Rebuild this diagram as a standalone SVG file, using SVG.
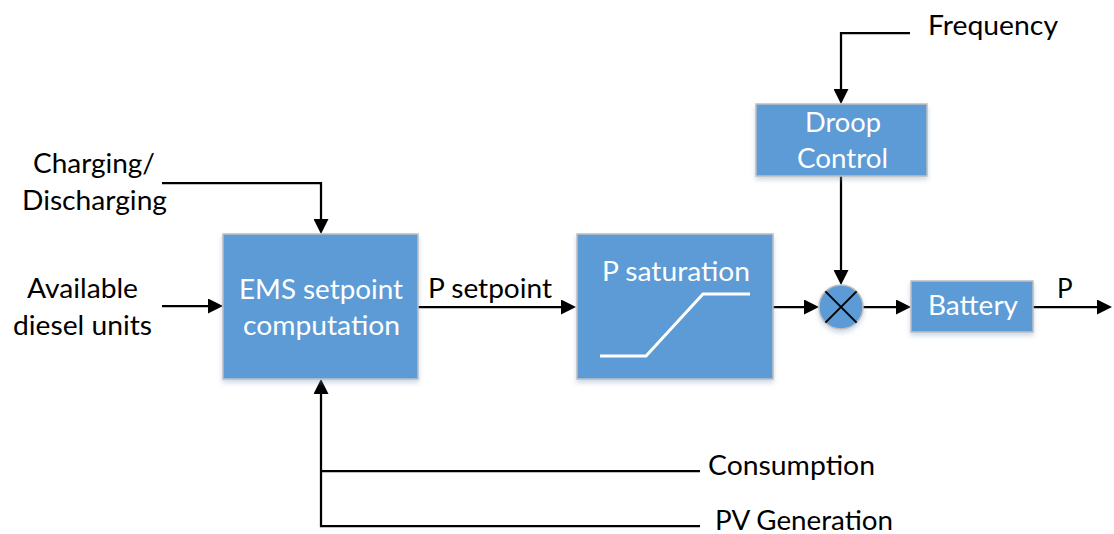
<svg xmlns="http://www.w3.org/2000/svg" width="1114" height="534" viewBox="0 0 1114 534">
  <style>
    .box { fill: #5B9BD5; stroke: #BFBFBF; stroke-width: 1.5; filter: url(#shadow); }
    .wire { fill: none; stroke: #000; stroke-width: 2.25; }
    .arrow { marker-end: url(#head); }
    text { font-family: Lato, "Open Sans", "Liberation Sans", sans-serif; font-size: 26px; }
    .in { fill: #fff; }
    .out { fill: #000; }
    .curve { fill: none; stroke: #fff; stroke-width: 3; }
    .cross { stroke: #000; stroke-width: 2; }
  </style>
  <defs>
    <filter id="shadow" x="-10%" y="-10%" width="120%" height="130%">
      <feDropShadow dx="0" dy="3" stdDeviation="2.5" flood-color="#7F9FC0" flood-opacity="0.4"/>
    </filter>
    <marker id="head" viewBox="0 0 15 15" refX="11" refY="7.5" markerWidth="15" markerHeight="15" orient="auto" markerUnits="userSpaceOnUse">
      <path d="M0,0 L15,7.5 L0,15 z" fill="#000"/>
    </marker>
  </defs>

  <!-- signal lines -->
  <g id="connectors">
    <path class="wire arrow" d="M162,183 H321 V230"/>
    <path class="wire arrow" d="M162,306 H219"/>
    <path class="wire arrow" d="M418,307 H572"/>
    <path class="wire arrow" d="M773,307 H815"/>
    <path class="wire arrow" d="M863,307 H907"/>
    <path class="wire arrow" d="M1033,307 H1108"/>
    <path class="wire arrow" d="M910,33 H841 V100"/>
    <path class="wire arrow" d="M841,176 V281"/>
    <path class="wire" d="M700,471 H321"/>
    <path class="wire arrow" d="M700,526 H321 V383"/>
  </g>

  <g id="ems">
    <rect class="box" x="223" y="234" width="195" height="145"/>
    <text class="in" x="239" y="299" textLength="164" lengthAdjust="spacingAndGlyphs">EMS setpoint</text>
    <text class="in" x="243" y="335" textLength="157" lengthAdjust="spacingAndGlyphs">computation</text>
  </g>

  <g id="saturation">
    <rect class="box" x="577" y="234" width="196" height="145"/>
    <text class="in" x="602" y="281" textLength="148" lengthAdjust="spacingAndGlyphs">P saturation</text>
    <polyline class="curve" points="600,356 646,356 703,294 750,294"/>
  </g>

  <g id="droop">
    <rect class="box" x="756" y="104" width="171" height="72"/>
    <text class="in" x="805" y="132" textLength="76" lengthAdjust="spacingAndGlyphs">Droop</text>
    <text class="in" x="797" y="168" textLength="91" lengthAdjust="spacingAndGlyphs">Control</text>
  </g>

  <g id="multiplier">
    <circle class="box" cx="841" cy="307" r="22"/>
    <line class="cross" x1="825.4" y1="291.4" x2="856.6" y2="322.6"/>
    <line class="cross" x1="856.6" y1="291.4" x2="825.4" y2="322.6"/>
  </g>

  <g id="battery">
    <rect class="box" x="911" y="281" width="122" height="51"/>
    <text class="in" x="928" y="315" textLength="90" lengthAdjust="spacingAndGlyphs">Battery</text>
  </g>

  <g id="labels">
    <text class="out" x="928" y="35" textLength="130" lengthAdjust="spacingAndGlyphs">Frequency</text>
    <text class="out" x="33" y="173" textLength="122" lengthAdjust="spacingAndGlyphs">Charging/</text>
    <text class="out" x="22" y="210" textLength="145" lengthAdjust="spacingAndGlyphs">Discharging</text>
    <text class="out" x="27" y="298" textLength="111" lengthAdjust="spacingAndGlyphs">Available</text>
    <text class="out" x="13" y="335" textLength="139" lengthAdjust="spacingAndGlyphs">diesel units</text>
    <text class="out" x="428" y="298" textLength="124" lengthAdjust="spacingAndGlyphs">P setpoint</text>
    <text class="out" x="1057" y="298">P</text>
    <text class="out" x="708" y="475" textLength="167" lengthAdjust="spacingAndGlyphs">Consumption</text>
    <text class="out" x="715" y="530" textLength="178" lengthAdjust="spacingAndGlyphs">PV Generation</text>
  </g>
</svg>
